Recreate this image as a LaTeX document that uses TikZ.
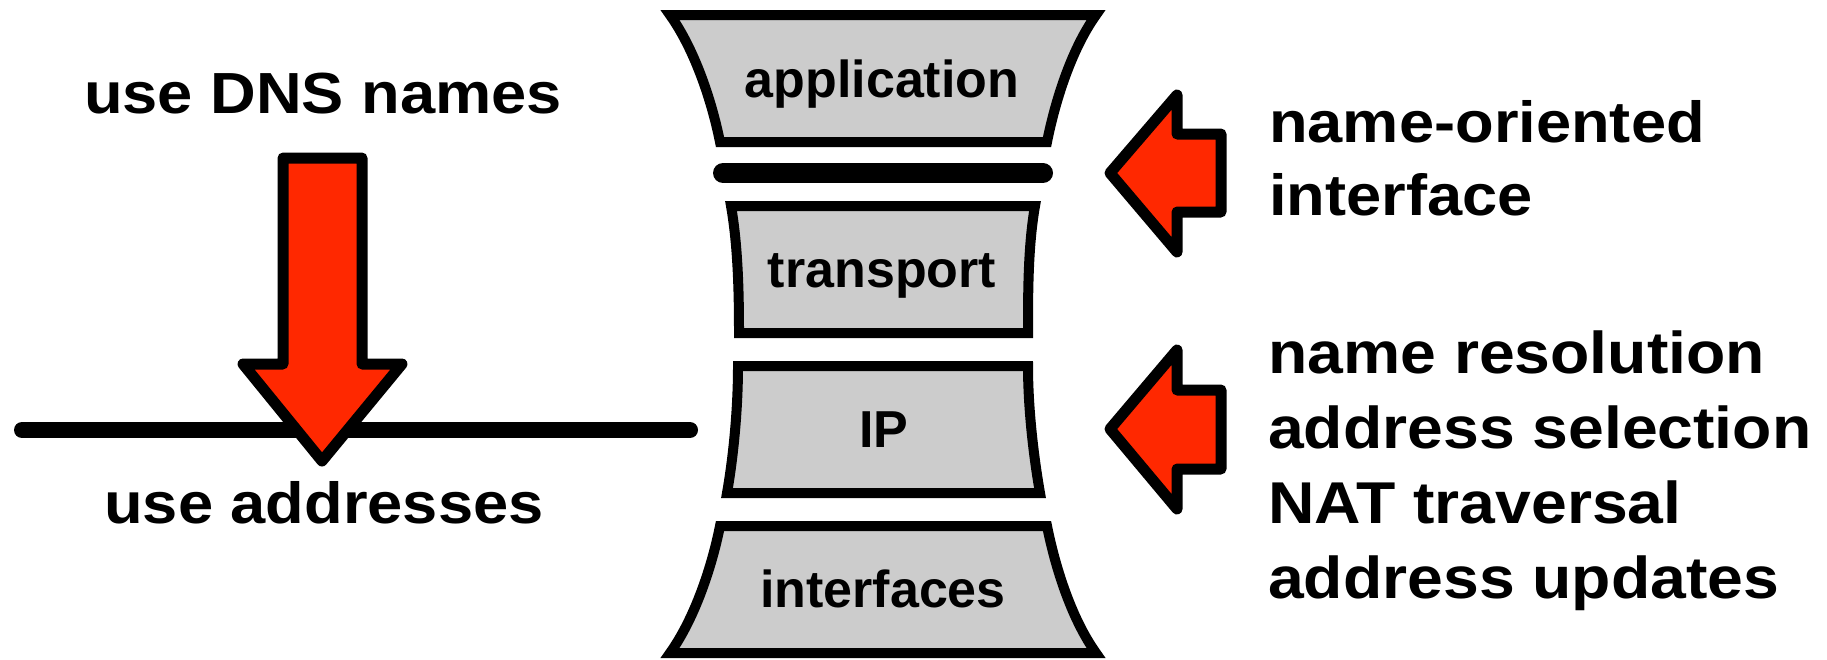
\documentclass[tikz,border=0pt]{standalone}
\usepackage{fontspec}
\setmainfont{Liberation Sans}
\newfontfamily\widefont{Liberation Sans}[FakeStretch=1.09]
\definecolor{arrowred}{RGB}{255,40,0}
\tikzset{
  layer/.style={draw, line width=10pt, fill=black!20, line join=miter},
  blockarrow/.style={draw, line width=11pt, fill=arrowred, line join=round},
  layerlabel/.style={anchor=base, inner sep=0pt, font=\fontsize{52}{60}\selectfont\bfseries},
  widelabel/.style={inner sep=0pt, align=left, font=\widefont\fontsize{58}{73}\selectfont\bfseries},
  sidelabel/.style={inner sep=0pt, align=left, font=\widefont\fontsize{59}{75}\selectfont\bfseries},
}
\begin{document}
\begin{tikzpicture}[x=1pt,y=-1pt]
  \useasboundingbox (0,0) rectangle (1827,659);
  % left side
  \draw[line width=16pt, line cap=round] (22,430) -- (690,430);
  \draw[blockarrow] (283,158) -- (362,158) -- (362,364) -- (402,364) -- (322,461)
    -- (243,364) -- (283,364) -- cycle;
  \node[widelabel, anchor=base] (dns) at (323,113) {use DNS names};
  \node[widelabel, anchor=base] (addr) at (324,523) {use addresses};
  % hourglass
  \draw[layer] (720,142) .. controls +(-8,-40) and +(25,35) .. (670,15) -- (1096,15)
    .. controls +(-25,35) and +(8,-40) .. (1047,142) -- cycle;
  \draw[line width=20pt, line cap=round] (723,173) -- (1043,173);
  \draw[layer] (739,333) .. controls +(0,-40) and +(7,40) .. (731,206) -- (1035,206)
    .. controls +(-7,40) and +(0,-40) .. (1028,333) -- cycle;
  \draw[layer] (727,493) .. controls +(7,-40) and +(0,40) .. (738,366) -- (1028,366)
    .. controls +(0,40) and +(-7,-40) .. (1040,493) -- cycle;
  \draw[layer] (670,653) .. controls +(25,-35) and +(-8,40) .. (720,526) -- (1047,526)
    .. controls +(8,40) and +(-25,-35) .. (1096,653) -- cycle;
  \node[layerlabel] (app) at (882,97) {application};
  \node[layerlabel] (trans) at (882,287) {transport};
  \node[layerlabel] (ip) at (884,447) {IP};
  \node[layerlabel] (ifc) at (883,607) {interfaces};
  % right side
  \draw[blockarrow] (1110,173) -- (1177,95) -- (1177,134) -- (1221,134) -- (1221,212)
    -- (1177,212) -- (1177,252) -- cycle;
  \draw[blockarrow] (1110,429) -- (1177,350) -- (1177,390) -- (1221,390) -- (1221,469)
    -- (1177,469) -- (1177,509) -- cycle;
  \node[widelabel, anchor=base west] (nameif) at (1269,215) {name-oriented\\interface};
  \node[sidelabel, anchor=base west] (resol) at (1268,598) {name resolution\\address selection\\NAT traversal\\address updates};
\end{tikzpicture}
\end{document}
